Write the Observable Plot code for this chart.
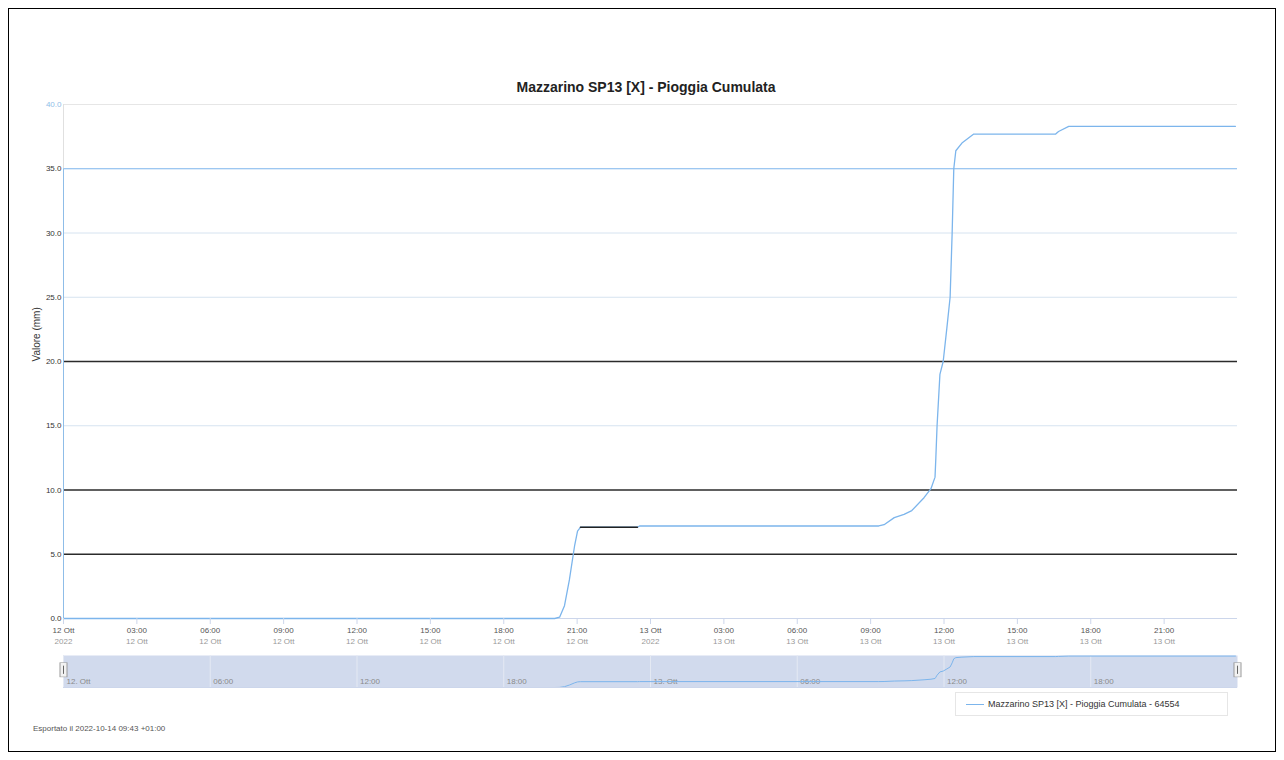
<!DOCTYPE html>
<html><head><meta charset="utf-8">
<script src="https://cdn.jsdelivr.net/npm/d3@7"></script>
<script src="https://cdn.jsdelivr.net/npm/@observablehq/plot@0.6"></script>
<style>
body{margin:0;background:#fff;font-family:"Liberation Sans",Arial,sans-serif;}
#page{position:relative;width:1284px;height:760px;overflow:hidden;background:#fff;}
#frame{position:absolute;left:8px;top:8px;width:1268px;height:744px;border:1px solid #000;box-sizing:border-box;pointer-events:none;}
#title{position:absolute;left:0;top:79px;width:1292px;text-align:center;font-weight:bold;font-size:14px;color:#222;line-height:16px;}
#main{position:absolute;left:0;top:0;}
#nav{position:absolute;left:0;top:650px;}
#legend{position:absolute;left:955px;top:692px;width:273px;height:24px;border:1px solid #e6e6e6;box-sizing:border-box;font-size:9px;color:#333;}
#legend .sw{position:absolute;left:10px;top:11px;width:18px;height:0;border-top:1.3px solid #7cb5ec;}
#legend .tx{position:absolute;left:32px;top:6px;line-height:11px;white-space:nowrap;}
#footer{position:absolute;left:33px;top:724px;font-size:8px;color:#555;white-space:nowrap;}
</style></head>
<body>
<div id="page">
  <div id="main"></div>
  <div id="nav"></div>
  <div id="title"></div>
  <div id="legend"><div class="sw"></div><div class="tx"></div></div>
  <div id="footer"></div>
  <div id="frame"></div>
</div>
<script>
// ---------- data ----------
const chartTitle = "Mazzarino SP13 [X] - Pioggia Cumulata";
const legendLabel = "Mazzarino SP13 [X] - Pioggia Cumulata - 64554";
const footerText = "Esportato il 2022-10-14 09:43 +01:00";
const yAxisLabel = "Valore (mm)";
const monthName = "Ott";

const times = [
  "2022-10-12T00:00Z","2022-10-12T20:05Z","2022-10-12T20:17Z","2022-10-12T20:29Z",
  "2022-10-12T20:41Z","2022-10-12T20:54Z","2022-10-12T21:01Z","2022-10-12T21:08Z",
  "2022-10-12T23:28Z","2022-10-12T23:33Z","2022-10-13T09:20Z","2022-10-13T09:33Z",
  "2022-10-13T09:58Z","2022-10-13T10:22Z","2022-10-13T10:41Z","2022-10-13T11:11Z",
  "2022-10-13T11:28Z","2022-10-13T11:38Z","2022-10-13T11:40Z","2022-10-13T11:43Z",
  "2022-10-13T11:50Z","2022-10-13T11:58Z","2022-10-13T12:07Z","2022-10-13T12:15Z",
  "2022-10-13T12:20Z","2022-10-13T12:24Z","2022-10-13T12:29Z","2022-10-13T12:44Z",
  "2022-10-13T13:13Z","2022-10-13T16:34Z","2022-10-13T16:41Z","2022-10-13T17:06Z",
  "2022-10-13T23:55Z"
];
const values = [
  0, 0, 0.1, 1.0,
  3.0, 5.7, 6.8, 7.1,
  7.1, 7.2, 7.2, 7.3,
  7.85, 8.1, 8.4, 9.4,
  10.1, 11.0, 12.5, 15.0,
  19.0, 20.0, 22.6, 25.0,
  30.0, 35.0, 36.4, 37.0,
  37.7, 37.7, 37.9, 38.3,
  38.3
];
// dark-rendered segment of the series in the reference
const darkTimes = ["2022-10-12T21:08Z","2022-10-12T23:28Z"];
const darkValues = [7.1, 7.1];

const xStart = "2022-10-12T00:00Z";
const xEnd = "2022-10-14T00:00Z";
const yTicks = [0, 5, 10, 15, 20, 25, 30, 35, 40];

// ---------- build ----------
const series = times.map((t, i) => ({t: new Date(t), v: values[i]}));
const dark = darkTimes.map((t, i) => ({t: new Date(t), v: darkValues[i]}));
const x0 = new Date(xStart), x1 = new Date(xEnd);
const fmt2 = d3.utcFormat("%H:%M");
const isMidnight = d => d.getUTCHours() === 0 && d.getUTCMinutes() === 0;
const line1 = d => isMidnight(d) ? `${d.getUTCDate()} ${monthName}` : fmt2(d);
const line2 = d => isMidnight(d) ? `${d.getUTCFullYear()}` : `${d.getUTCDate()} ${monthName}`;
const ticks3h = d3.utcHour.every(3).range(x0, x1);

function gridColor(v) {
  if (v === 5 || v === 10 || v === 20) return "#2b2b2b";
  if (v === 35) return "#7cb5ec";
  if (v === 40) return "#e6e6e6";
  return "#d6e3f0";
}
function gridWidth(v) { return (v === 5 || v === 10 || v === 20) ? 1.4 : 1; }
function labelColor(v) { return v === 40 ? "#8fbde8" : "#333"; }

const font = "Liberation Sans, Arial, sans-serif";

const main = Plot.plot({
  width: 1284, height: 650,
  marginLeft: 63, marginRight: 47, marginTop: 104, marginBottom: 32,
  style: {fontFamily: font, background: "transparent", overflow: "visible"},
  x: {type: "utc", domain: [x0, x1], axis: null},
  y: {domain: [0, 40], axis: null},
  color: {type: "identity"},
  marks: [
    Plot.ruleY(yTicks.filter(v => v > 0), {y: d => d, stroke: d => gridColor(d), strokeWidth: d => gridWidth(d)}),
    Plot.ruleX([x0], {y1: 0, y2: 35, stroke: "#8fbde8"}),
    Plot.ruleX([x0], {y1: 35, y2: 40, stroke: "#e0e0e0"}),
    Plot.ruleY([0], {stroke: "#ccd6eb"}),
    Plot.text(yTicks, {y: d => d, text: d => d.toFixed(1), frameAnchor: "left", textAnchor: "end",
      dx: -2, fontSize: 8, fill: d => labelColor(d)}),
    Plot.text([yAxisLabel], {text: d => d, frameAnchor: "left", rotate: -90, dx: -27,
      fontSize: 10, fill: "#333"}),
    Plot.text(ticks3h, {x: d => d, text: line1, frameAnchor: "bottom", lineAnchor: "top",
      dy: 9, fontSize: 8, fill: "#555"}),
    Plot.text(ticks3h, {x: d => d, text: line2, frameAnchor: "bottom", lineAnchor: "top",
      dy: 20, fontSize: 8, fill: "#999"}),
    Plot.line(series, {x: "t", y: "v", stroke: "#7cb5ec", strokeWidth: 1.3}),
    Plot.line(dark, {x: "t", y: "v", stroke: "#222", strokeWidth: 1.3})
  ]
});
document.getElementById("main").appendChild(main);

// x-axis tick marks just below the axis line
const tickPlot = Plot.plot({
  width: 1284, height: 12,
  marginLeft: 63, marginRight: 47, marginTop: 0, marginBottom: 0,
  style: {background: "transparent"},
  x: {type: "utc", domain: [x0, x1], axis: null},
  marks: [Plot.tickX(ticks3h, {x: d => d, stroke: "#ccd6eb", insetBottom: 6})]
});
tickPlot.style.position = "absolute";
tickPlot.style.left = "0px";
tickPlot.style.top = "618px";
document.getElementById("page").appendChild(tickPlot);

const navTicks = d3.utcHour.every(6).range(x0, x1);
const navLabel = d => isMidnight(d) ? `${d.getUTCDate()}. ${monthName}` : fmt2(d);
const nav = Plot.plot({
  width: 1284, height: 40,
  marginLeft: 63, marginRight: 47, marginTop: 5, marginBottom: 3,
  style: {fontFamily: font, background: "transparent", overflow: "visible"},
  x: {type: "utc", domain: [x0, x1], axis: null},
  y: {domain: [0, 39], axis: null},
  marks: [
    Plot.frame({fill: "#d1daed", stroke: null}),
    Plot.ruleX(navTicks, {stroke: "#e4e9f3"}),
    Plot.text(navTicks, {x: d => d, text: navLabel, frameAnchor: "bottom", textAnchor: "start",
      dx: 3, dy: -4, fontSize: 8, fill: "#8a8a8a"}),
    Plot.line(series, {x: "t", y: "v", stroke: "#7cb5ec", strokeWidth: 1}),
    Plot.ruleY([0], {stroke: "#ccd6eb"}),
    Plot.ruleX([x0, x1], {y1: 12, y2: 30, stroke: "#999", strokeWidth: 8}),
    Plot.ruleX([x0, x1], {y1: 12.6, y2: 29.4, stroke: "#f2f2f2", strokeWidth: 6}),
    Plot.ruleX([x0, x1], {y1: 16, y2: 26, stroke: "#666", strokeWidth: 1})
  ]
});
document.getElementById("nav").appendChild(nav);

document.getElementById("title").textContent = chartTitle;
document.querySelector("#legend .tx").textContent = legendLabel;
document.getElementById("footer").textContent = footerText;
</script>
</body></html>
